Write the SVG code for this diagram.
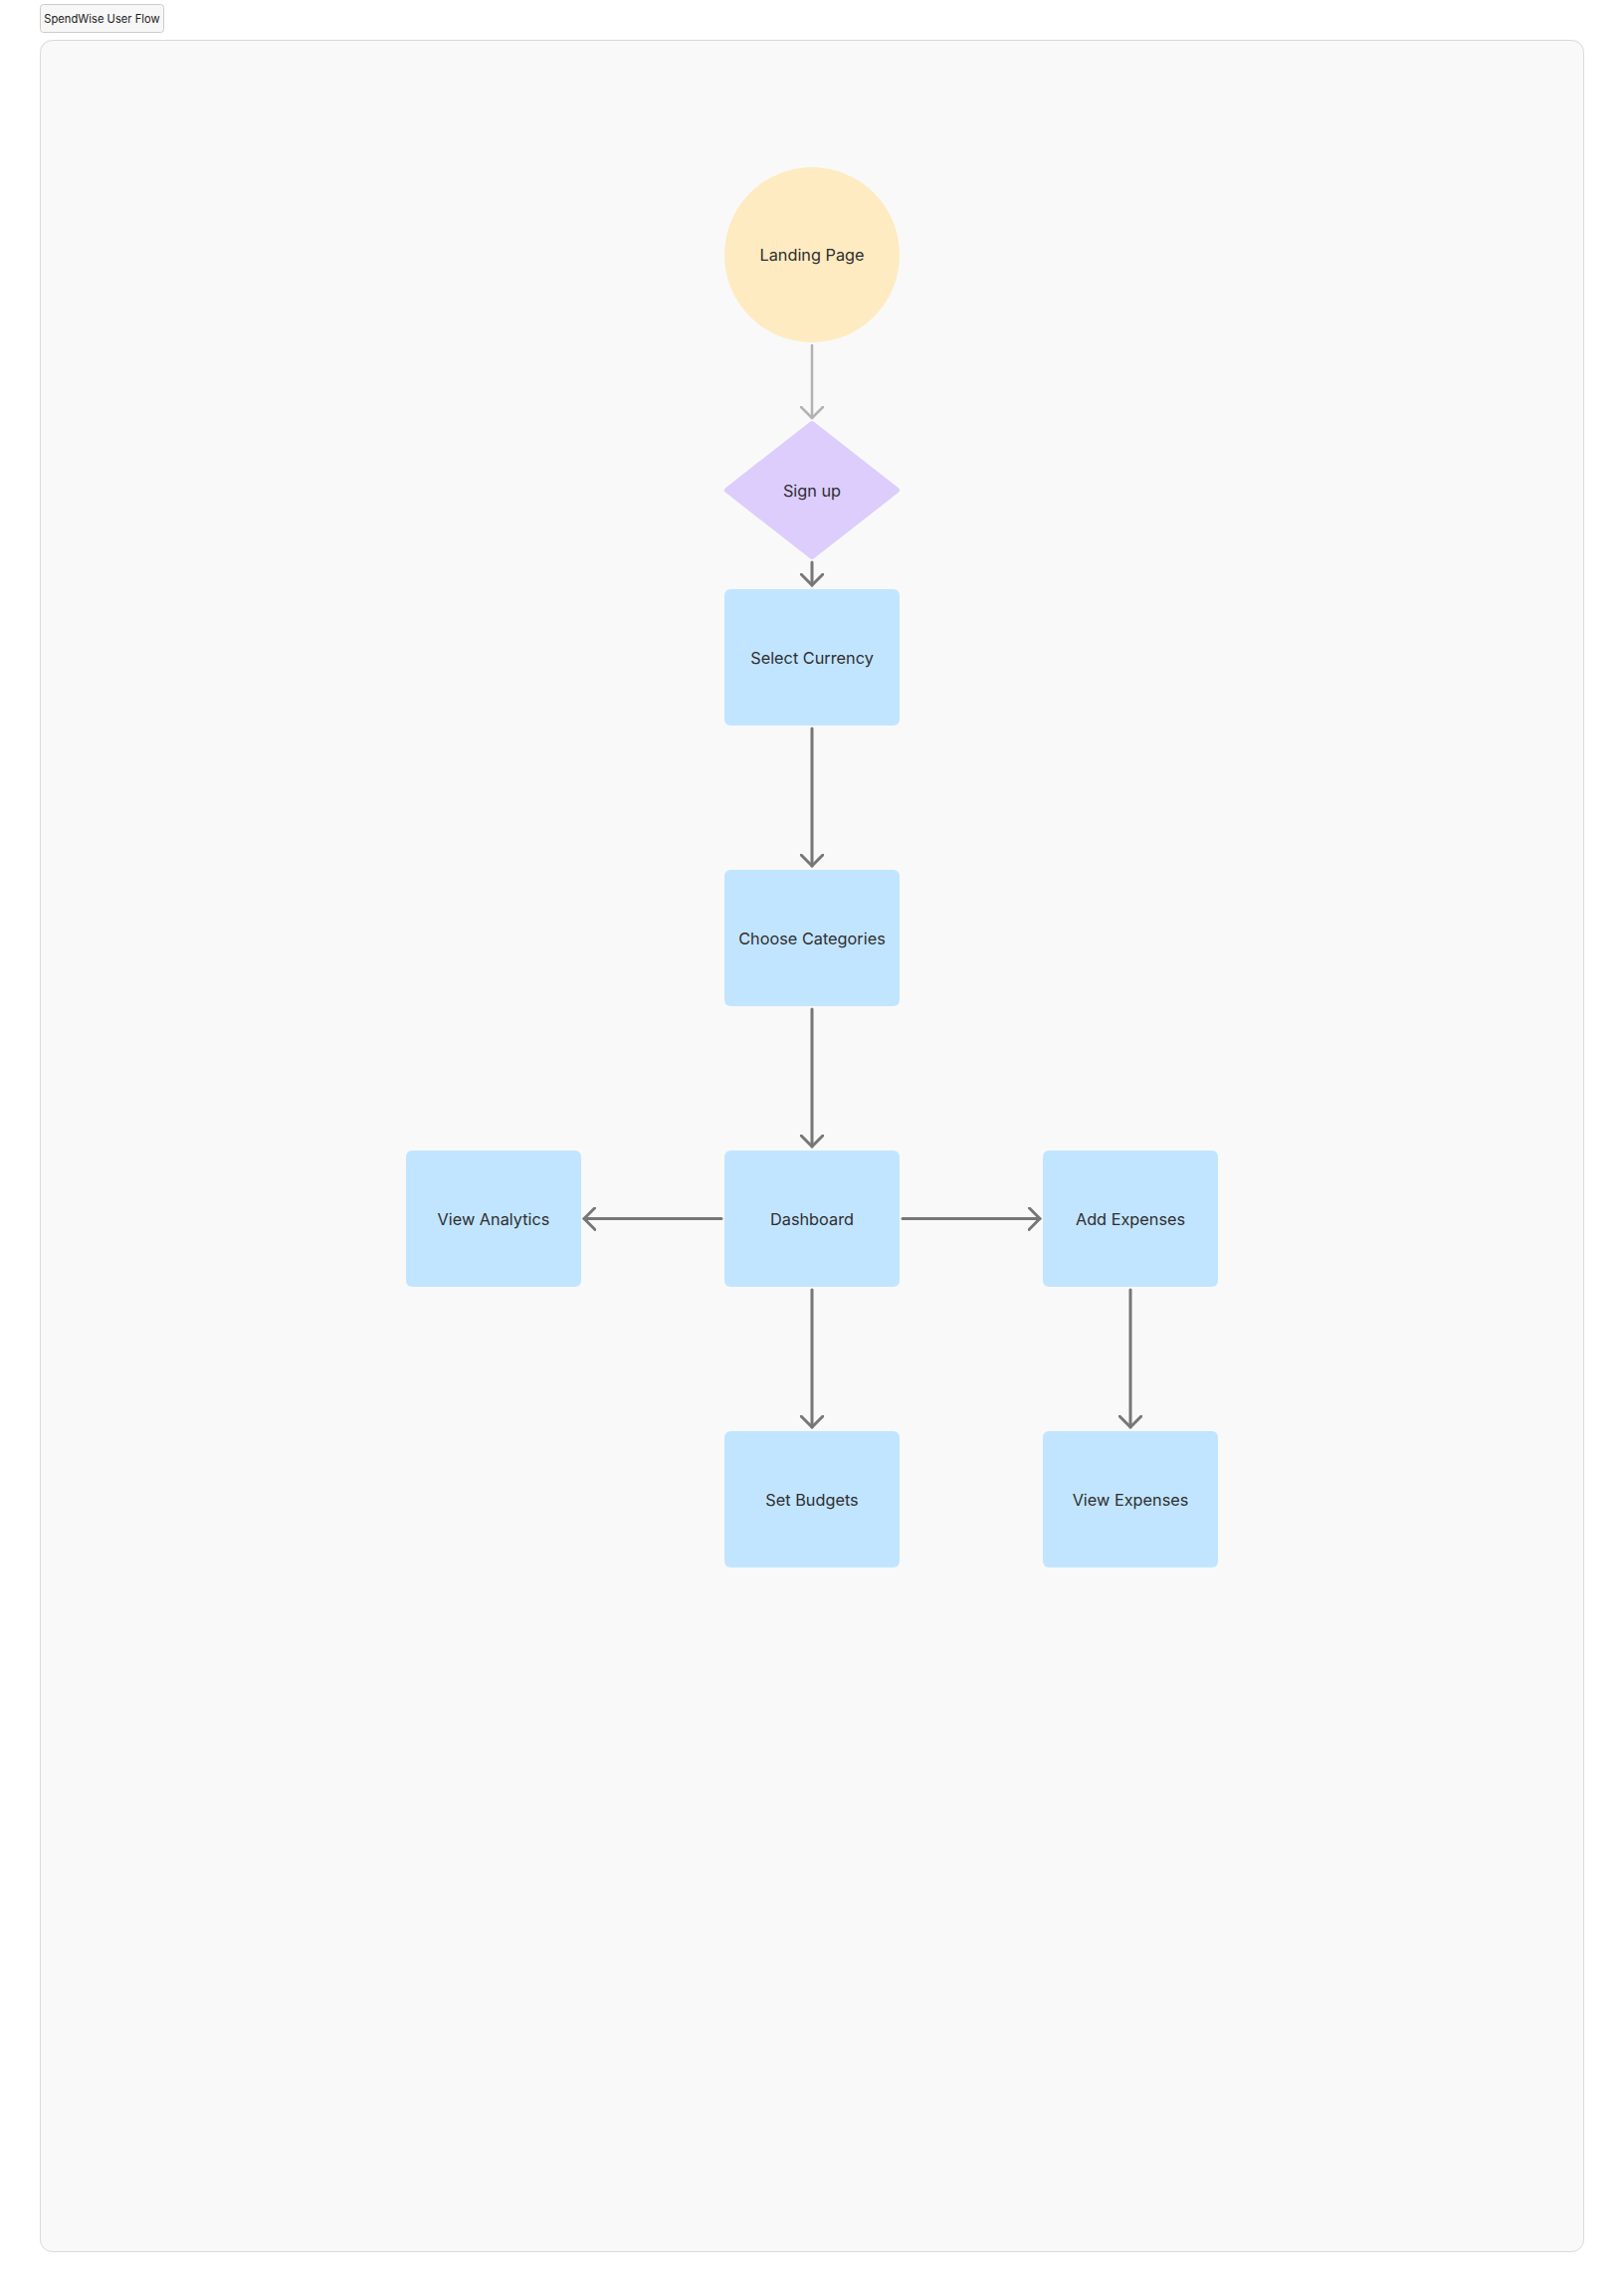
<svg xmlns="http://www.w3.org/2000/svg" width="1632" height="2304" viewBox="0 0 1632 2304">
<style>
.lbl{font-family:Inter,"Noto Sans","Liberation Sans",sans-serif;font-size:16.3px;fill:#2e2e2e;text-anchor:middle;dominant-baseline:central}
.box{fill:#c2e5ff}
.conn{fill:none;stroke:#777777;stroke-width:3;stroke-linecap:round;stroke-linejoin:round}
.light{stroke:#b3b3b3;stroke-width:2.5}
</style>
<defs>
<marker id="ah" viewBox="0 0 24 24" refX="12" refY="12" markerWidth="24" markerHeight="24" markerUnits="userSpaceOnUse" orient="auto">
<path d="M1 1 L12 12 L1 23" fill="none" stroke="#777777" stroke-width="3" stroke-linecap="round" stroke-linejoin="round"/>
</marker>
<marker id="ahl" viewBox="0 0 24 24" refX="12" refY="12" markerWidth="24" markerHeight="24" markerUnits="userSpaceOnUse" orient="auto">
<path d="M1 1 L12 12 L1 23" fill="none" stroke="#b3b3b3" stroke-width="2.5" stroke-linecap="round" stroke-linejoin="round"/>
</marker>
</defs>
<rect width="1632" height="2304" fill="#ffffff"/>
<g id="title">
<rect x="40.5" y="4.5" width="124" height="28" rx="3" fill="#f7f7f7" stroke="#cccccc"/>
<text x="102.5" y="18.5" style="font-family:Inter,'Noto Sans','Liberation Sans',sans-serif;font-size:11.2px;fill:#222;text-anchor:middle;dominant-baseline:central">SpendWise User Flow</text>
</g>
<rect id="frame" x="40.5" y="40.5" width="1551" height="2222" rx="12" fill="#f9f9f9" stroke="#d9d9d9"/>
<g id="connectors">
<line class="conn light" x1="816" y1="347" x2="816" y2="420" marker-end="url(#ahl)"/>
<line class="conn" x1="816" y1="565" x2="816" y2="588" marker-end="url(#ah)"/>
<line class="conn" x1="816" y1="732" x2="816" y2="870" marker-end="url(#ah)"/>
<line class="conn" x1="816" y1="1014" x2="816" y2="1152" marker-end="url(#ah)"/>
<line class="conn" x1="725" y1="1224.5" x2="587" y2="1224.5" marker-end="url(#ah)"/>
<line class="conn" x1="907" y1="1224.5" x2="1045" y2="1224.5" marker-end="url(#ah)"/>
<line class="conn" x1="816" y1="1296" x2="816" y2="1434" marker-end="url(#ah)"/>
<line class="conn" x1="1136" y1="1296" x2="1136" y2="1434" marker-end="url(#ah)"/>
</g>
<g id="landing-page">
<circle cx="816" cy="256" r="88" fill="#feebc1"/>
<text class="lbl" x="816" y="256">Landing Page</text>
</g>
<g id="sign-up">
<polygon points="816,426 901,492.5 816,559 731,492.5" fill="#dccdfd" stroke="#dccdfd" stroke-width="6" stroke-linejoin="round"/>
<text class="lbl" x="816" y="492.5">Sign up</text>
</g>
<g id="select-currency">
<rect class="box" x="728" y="592" width="176" height="137" rx="6"/>
<text class="lbl" x="816" y="660.5">Select Currency</text>
</g>
<g id="choose-categories">
<rect class="box" x="728" y="874" width="176" height="137" rx="6"/>
<text class="lbl" x="816" y="942.5">Choose Categories</text>
</g>
<g id="dashboard">
<rect class="box" x="728" y="1156" width="176" height="137" rx="6"/>
<text class="lbl" x="816" y="1224.5">Dashboard</text>
</g>
<g id="view-analytics">
<rect class="box" x="408" y="1156" width="176" height="137" rx="6"/>
<text class="lbl" x="496" y="1224.5">View Analytics</text>
</g>
<g id="add-expenses">
<rect class="box" x="1048" y="1156" width="176" height="137" rx="6"/>
<text class="lbl" x="1136" y="1224.5">Add Expenses</text>
</g>
<g id="set-budgets">
<rect class="box" x="728" y="1438" width="176" height="137" rx="6"/>
<text class="lbl" x="816" y="1506.5">Set Budgets</text>
</g>
<g id="view-expenses">
<rect class="box" x="1048" y="1438" width="176" height="137" rx="6"/>
<text class="lbl" x="1136" y="1506.5">View Expenses</text>
</g>
</svg>
